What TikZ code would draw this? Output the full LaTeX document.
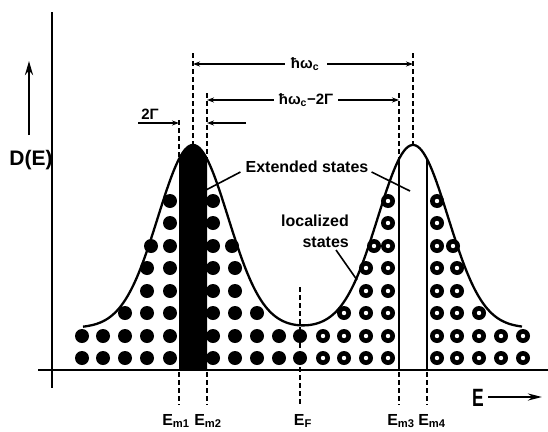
\documentclass[tikz,border=0pt]{standalone}
\usepackage{fontspec}
\usepackage{graphicx}
\setmainfont{Liberation Sans}
\usetikzlibrary{arrows.meta}
\begin{document}
\begin{tikzpicture}[x=1pt,y=-1pt,
  declare function={dos(\t)=370-(42+183*(exp(max(-9,-0.5*((\t-193)/35)*((\t-193)/35)))+exp(max(-9,-0.5*((\t-413)/35)*((\t-413)/35)))));},
  axisline/.style={line width=2.4pt},
  curveline/.style={line width=2.3pt,line join=round},
  dashline/.style={line width=1.7pt,dash pattern=on 5pt off 3pt},
  dimline/.style={line width=1.6pt,-{Stealth[length=7pt,width=5pt]}},
  leader/.style={line width=1.6pt},
  lbl/.style={inner sep=0pt,font=\bfseries\fontsize{16}{21}\selectfont},
  elbl/.style={inner sep=0pt,font=\bfseries\fontsize{16}{16}\selectfont},
  dimlbl/.style={inner sep=0pt,font=\bfseries\fontsize{15}{15}\selectfont},
]
\useasboundingbox (0,0) rectangle (548,431);

% dark band (extended states, left peak)
\fill plot[domain=179:207,samples=40] (\x,{dos(\x)}) -- (207,370) -- (179,370) -- cycle;

% filled dots
\foreach \yy/\xs in {358/{82,103,125,147,170,213,235,257,279,300},
                     336/{82,103,125,147,170,213,235,257,279,300},
                     313/{125,147,170,213,235,257},
                     291/{147,170,213,235},
                     268/{147,170,213,235},
                     246/{151,170,213,232},
                     223/{170,213},
                     201/{170,213}} {
  \foreach \xx in \xs {
    \fill (\xx,\yy) circle[radius=7pt];
  }
}
% open (ring) dots
\foreach \yy/\xs in {358/{323,344,366,388,437,457,479,501,523},
                     336/{323,344,366,388,437,457,479,501,523},
                     313/{344,366,388,437,457,479},
                     291/{366,388,437,457},
                     268/{366,388,437,457},
                     246/{374,388,437,453},
                     223/{388,437},
                     201/{388,437}} {
  \foreach \xx in \xs {
    \fill (\xx,\yy) circle[radius=7pt];
    \fill[white] (\xx,\yy) circle[radius=2.2pt];
  }
}

% density of states curve
\draw[curveline] plot[domain=83:522,samples=220,smooth] (\x,{dos(\x)});

% axes
\coordinate (yaxtop) at (52,12);
\coordinate (yaxbot) at (52,388);
\coordinate (xaxl) at (38,370);
\coordinate (xaxr) at (548,370);
\draw[axisline] (yaxtop) -- (yaxbot);
\draw[axisline] (xaxl) -- (xaxr);

% white band edges (solid)
\coordinate (m3top) at (399,{dos(399)});
\coordinate (m3ax) at (399,370);
\coordinate (m4top) at (427,{dos(427)});
\coordinate (m4ax) at (427,370);
\draw[line width=1.9pt] (m3top) -- (m3ax);
\draw[line width=1.9pt] (m4top) -- (m4ax);

% upper dashed guide lines
\coordinate (g1a) at (179,120);  \coordinate (g1b) at (179,{dos(179)});
\coordinate (g2a) at (193,53);   \coordinate (g2b) at (193,145);
\coordinate (g3a) at (207,93);   \coordinate (g3b) at (207,{dos(207)});
\coordinate (g4a) at (399,93);   \coordinate (g4b) at (m3top);
\coordinate (g5a) at (413,53);   \coordinate (g5b) at (413,145);
\draw[dashline] (g1a) -- (g1b);
\draw[dashline] (g2a) -- (g2b);
\draw[dashline] (g3a) -- (g3b);
\draw[dashline] (g4a) -- (g4b);
\draw[dashline] (g5a) -- (g5b);

% Fermi level dashed
\coordinate (eftop) at (300,287);
\coordinate (efbot) at (300,405);
\draw[dashline] (eftop) -- (efbot);

% lower dashed lines
\foreach \xx/\nm in {179/a,207/b,399/c,427/d} {
  \coordinate (low\nm1) at (\xx,372);
  \coordinate (low\nm2) at (\xx,405);
  \draw[dashline] (low\nm1) -- (low\nm2);
}

% energy labels
\node[elbl] (Em1) at (176,421) {E\textsubscript{m1}};
\node[elbl] (Em2) at (208,421) {E\textsubscript{m2}};
\node[elbl] (EF)  at (303,421) {E\textsubscript{F}};
\node[elbl] (Em3) at (401,421) {E\textsubscript{m3}};
\node[elbl] (Em4) at (432,421) {E\textsubscript{m4}};

% hbar omega_c
\node[dimlbl] (hw) at (305,64) {ħω\textsubscript{c}};
\coordinate (hwL) at (193,64);
\coordinate (hwR) at (413,64);
\draw[dimline] (hw.west) ++(-6,0) -- (hwL);
\draw[dimline] (hw.east) ++(8,0) -- (hwR);

% hbar omega_c - 2Gamma
\node[dimlbl] (hw2) at (306,100) {ħω\textsubscript{c}−2Γ};
\coordinate (hw2L) at (207,100);
\coordinate (hw2R) at (399,100);
\draw[dimline] (hw2.west) ++(-5,0) -- (hw2L);
\draw[dimline] (hw2.east) ++(5,0) -- (hw2R);

% 2 Gamma
\node[dimlbl] (tg) at (150,114) {2Γ};
\coordinate (tgAs) at (138,123);
\coordinate (tgAe) at (179,123);
\coordinate (tgBs) at (246,123);
\coordinate (tgBe) at (207,123);
\draw[dimline] (tgAs) -- (tgAe);
\draw[dimline] (tgBs) -- (tgBe);

% Extended states
\node[lbl] (ext) at (307,167) {Extended states};
\coordinate (extL) at (206,190);
\coordinate (extR) at (410,191);
\draw[leader] (ext.west) ++(-5,5) -- (extL);
\draw[leader] (ext.east) ++(3,5) -- (extR);

% localized states
\node[lbl,align=right,anchor=east] (loc) at (349,231) {localized\\states};
\coordinate (locE) at (357,280);
\draw[leader] (336,250) -- (locE);

% D(E) axis label
\node[inner sep=0pt,font=\bfseries\fontsize{21}{21}\selectfont] (DE) at (31,160) {D(E)};
\coordinate (DEs) at (29,135);
\coordinate (DEe) at (29,61);
\draw[line width=2.6pt,-{Stealth[length=14pt,width=8pt]}] (DEs) -- (DEe);

% E axis label
\node[inner sep=0pt,font=\bfseries\fontsize{25}{25}\selectfont] (Eax) at (478,398) {\scalebox{0.7}[1]{E}};
\coordinate (Eas) at (488,397);
\coordinate (Eae) at (542,397);
\draw[line width=2.6pt,-{Stealth[length=14pt,width=7pt]}] (Eas) -- (Eae);
\end{tikzpicture}
\end{document}
